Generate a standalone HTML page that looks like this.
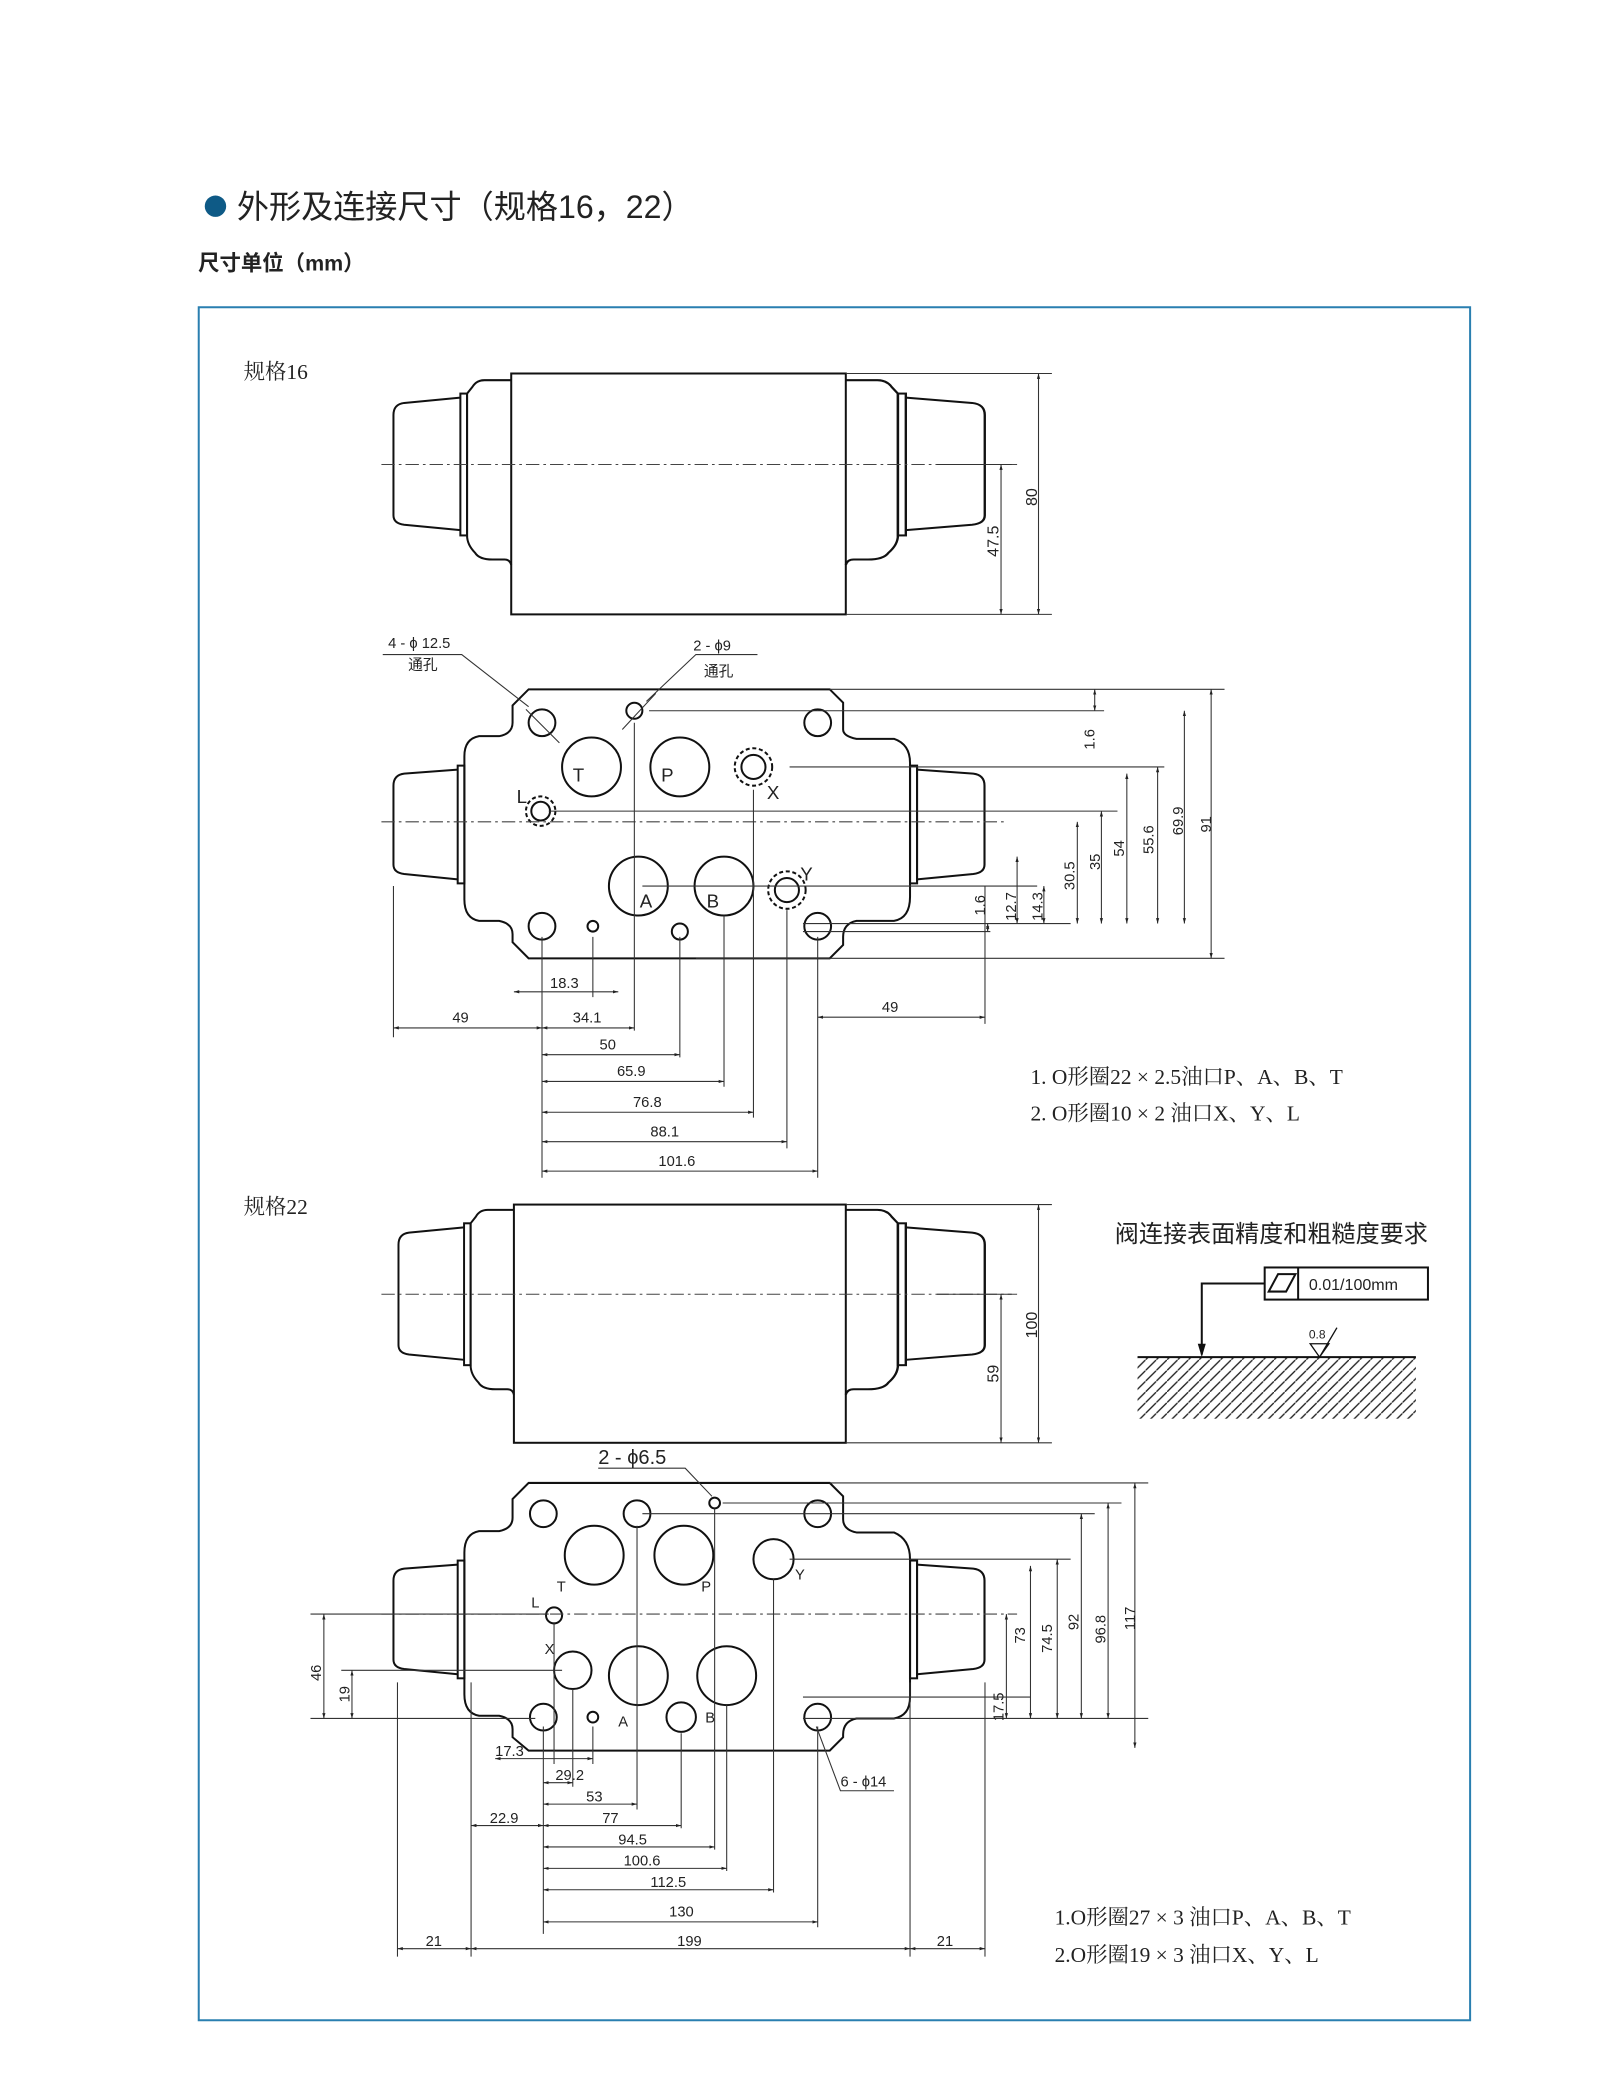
<!DOCTYPE html>
<html><head><meta charset="utf-8"><style>
html,body{margin:0;padding:0;background:#fff;width:1622px;height:2100px;overflow:hidden}
svg text{font-family:"Liberation Sans","Noto Sans CJK SC",sans-serif;fill:#222}
.s{font-family:"Liberation Serif","Noto Serif CJK SC",serif}
</style></head><body>
<svg width="1622" height="2100" viewBox="0 0 1212 1569" xmlns="http://www.w3.org/2000/svg">
<defs>
<marker id="a" viewBox="0 0 10 10" refX="10" refY="5" markerWidth="5" markerHeight="5" orient="auto-start-reverse"><path d="M0,2L10,5L0,8z" fill="#222"/></marker>
<pattern id="h" width="8" height="8" patternUnits="userSpaceOnUse"><path d="M0,8L8,0" stroke="#222" stroke-width="1"/></pattern>
<g id="sol">
<path d="M0 -63H-20Q-26 -63 -29 -58L-33 -53V53Q-33 60 -27 66Q-24 71 -14 71H-5Q-1 71 0 75"/>
<rect x="-38" y="-53" width="5" height="106"/>
<path d="M-38 -50L-80 -46Q-88 -45 -88 -37V38Q-88 44 -80 45L-38 49"/>
</g>
<g id="cap">
<rect x="-5" y="-44" width="5" height="88"/>
<path d="M-5 -41L-45 -38Q-53 -37 -53 -29V30Q-53 36 -45 37L-5 41"/>
</g>
</defs>
<circle cx="161" cy="154" r="8" fill="#0e5a86"/>
<text x="177" y="163" font-size="24">外形及连接尺寸（规格16，22）</text>
<text x="148" y="202" font-size="16" font-weight="bold">尺寸单位（mm）</text>
<rect x="148.5" y="229.5" width="950" height="1280" fill="none" stroke="#2a7fb0" stroke-width="1.5"/>

<g fill="none" stroke="#111" stroke-width="1.5">
<!-- size16 top -->
<rect x="382" y="279" width="250" height="180"/>
<use href="#sol" transform="translate(382 347)"/>
<use href="#sol" transform="translate(632 347) scale(-1.18 1)" style="vector-effect:non-scaling-stroke"/>
<!-- size16 plan -->
<path d="M395 515H620L630 525V545Q630 550 640 552H668Q680 556 680 570V670Q680 686 668 688H640Q630 690 630 700V706L620 716H395L383 704V698Q383 690 373 688H358Q347 686 347 672V565Q347 552 358 550H373Q383 548 383 540V527Z"/>
<use href="#cap" transform="translate(347 616)"/>
<use href="#cap" transform="translate(680 616) scale(-1.05 1)"/>
<circle cx="405" cy="540" r="10"/><circle cx="611" cy="540" r="10"/><circle cx="405" cy="692" r="10"/><circle cx="611" cy="692" r="10"/>
<circle cx="442" cy="573" r="22"/><circle cx="508" cy="573" r="22"/><circle cx="477" cy="662" r="22"/><circle cx="541" cy="662" r="22"/>
<circle cx="563" cy="573" r="9"/><circle cx="563" cy="573" r="14" stroke-dasharray="3 2"/>
<circle cx="404" cy="606" r="7"/><circle cx="404" cy="606" r="11" stroke-dasharray="3 2"/>
<circle cx="588" cy="665" r="9"/><circle cx="588" cy="665" r="14" stroke-dasharray="3 2"/>
<circle cx="443" cy="692" r="4"/><circle cx="508" cy="696" r="6"/><circle cx="474" cy="531" r="6"/>
<!-- size22 top -->
<rect x="384" y="900" width="248" height="178"/>
<use href="#sol" transform="translate(384 967) scale(0.98 1)"/>
<use href="#sol" transform="translate(632 967) scale(-1.18 1)"/>
<!-- size22 plan -->
<path d="M395 1108H620L630 1118V1135Q630 1143 640 1145H668Q680 1150 680 1165V1268Q680 1282 668 1284H640Q630 1286 630 1296V1298L620 1308H395L383 1298V1292Q383 1284 373 1282H358Q347 1280 347 1266V1160Q347 1146 358 1144H373Q383 1142 383 1134V1120Z"/>
<use href="#cap" transform="translate(347 1210)"/>
<use href="#cap" transform="translate(680 1210) scale(-1.05 1)"/>
<circle cx="406" cy="1131" r="10"/><circle cx="611" cy="1131" r="10"/><circle cx="406" cy="1283" r="10"/><circle cx="611" cy="1283" r="10"/>
<circle cx="476" cy="1131" r="10"/>
<circle cx="444" cy="1162" r="22"/><circle cx="511" cy="1162" r="22"/><circle cx="477" cy="1252" r="22"/><circle cx="543" cy="1252" r="22"/>
<circle cx="578" cy="1165" r="15"/><circle cx="428" cy="1248" r="14"/><circle cx="414" cy="1207" r="6"/>
<circle cx="443" cy="1283" r="4"/><circle cx="509" cy="1283" r="11"/><circle cx="534" cy="1123" r="4"/>
<!-- roughness -->
<rect x="945" y="947" width="122" height="24"/>
<line x1="970" y1="947" x2="970" y2="971"/>
<path d="M948 965L955 952H968L961 965Z"/>
<path d="M945 959H898V1012"/>
</g>
<path d="M895 1004L898 1014L901 1004Z" fill="#111"/>
<rect x="850" y="1014" width="208" height="46" fill="url(#h)"/>
<line x1="850" y1="1014" x2="1058" y2="1014" stroke="#111" stroke-width="1.5"/>
<path d="M979 1004L986 1014L993 1004Z M986 1014L999 992" fill="none" stroke="#111"/>
<text x="978" y="1000" font-size="9">0.8</text>
<text x="978" y="964" font-size="12">0.01/100mm</text>
<text x="833" y="928" font-size="18">阀连接表面精度和粗糙度要求</text>

<g stroke="#444" stroke-width="0.8" stroke-dasharray="10 3 2 3" fill="none">
<line x1="285" y1="347" x2="760" y2="347"/>
<line x1="285" y1="614" x2="750" y2="614"/>
<line x1="285" y1="967" x2="760" y2="967"/>
<line x1="285" y1="1206" x2="760" y2="1206"/>
</g>

<g stroke="#333" stroke-width="0.8" fill="none">
<path d="M632 279H786M632 459H786M700 347H756"/>
<line x1="776" y1="279" x2="776" y2="459" marker-start="url(#a)" marker-end="url(#a)"/>
<line x1="748" y1="347" x2="748" y2="459" marker-start="url(#a)" marker-end="url(#a)"/>
<path d="M620 515H915M485 531H825M590 573H870M410 606H835M480 662H775M600 690H800M520 716H915M600 696H740"/>
<line x1="905" y1="515" x2="905" y2="716" marker-start="url(#a)" marker-end="url(#a)"/>
<line x1="885" y1="531" x2="885" y2="690" marker-start="url(#a)" marker-end="url(#a)"/>
<line x1="865" y1="573" x2="865" y2="690" marker-start="url(#a)" marker-end="url(#a)"/>
<line x1="842" y1="578" x2="842" y2="690" marker-start="url(#a)" marker-end="url(#a)"/>
<line x1="823" y1="606" x2="823" y2="690" marker-start="url(#a)" marker-end="url(#a)"/>
<line x1="805" y1="614" x2="805" y2="690" marker-start="url(#a)" marker-end="url(#a)"/>
<line x1="818" y1="515" x2="818" y2="531" marker-start="url(#a)" marker-end="url(#a)"/>
<line x1="780" y1="662" x2="780" y2="690" marker-start="url(#a)" marker-end="url(#a)"/>
<line x1="760" y1="640" x2="760" y2="690" marker-start="url(#a)" marker-end="url(#a)"/>
<line x1="738" y1="690" x2="738" y2="696" marker-start="url(#a)" marker-end="url(#a)"/>
<path d="M294 662V775M405 700V880M443 700V745M474 540V770M508 700V790M541 684V812M563 590V835M588 680V858M611 700V880M736 662V765"/>
<line x1="384" y1="741" x2="462" y2="741" marker-start="url(#a)" marker-end="url(#a)"/>
<line x1="294" y1="768" x2="405" y2="768" marker-start="url(#a)" marker-end="url(#a)"/>
<line x1="405" y1="768" x2="474" y2="768" marker-start="url(#a)" marker-end="url(#a)"/>
<line x1="611" y1="760" x2="736" y2="760" marker-start="url(#a)" marker-end="url(#a)"/>
<line x1="405" y1="788" x2="508" y2="788" marker-start="url(#a)" marker-end="url(#a)"/>
<line x1="405" y1="808" x2="541" y2="808" marker-start="url(#a)" marker-end="url(#a)"/>
<line x1="405" y1="831" x2="563" y2="831" marker-start="url(#a)" marker-end="url(#a)"/>
<line x1="405" y1="853" x2="588" y2="853" marker-start="url(#a)" marker-end="url(#a)"/>
<line x1="405" y1="875" x2="611" y2="875" marker-start="url(#a)" marker-end="url(#a)"/>
<path d="M286 489H345L395 528M566 489H520L483 524M393 530L418 555M465 545L490 518"/>
<path d="M632 900H786M632 1078H786M700 967H756"/>
<line x1="776" y1="900" x2="776" y2="1078" marker-start="url(#a)" marker-end="url(#a)"/>
<line x1="748" y1="967" x2="748" y2="1078" marker-start="url(#a)" marker-end="url(#a)"/>
<path d="M620 1108H858M540 1123H838M480 1131H818M590 1165H800M600 1284H858M600 1268H770"/>
<line x1="848" y1="1108" x2="848" y2="1306" marker-start="url(#a)" marker-end="url(#a)"/>
<line x1="828" y1="1123" x2="828" y2="1284" marker-start="url(#a)" marker-end="url(#a)"/>
<line x1="808" y1="1131" x2="808" y2="1284" marker-start="url(#a)" marker-end="url(#a)"/>
<line x1="790" y1="1165" x2="790" y2="1284" marker-start="url(#a)" marker-end="url(#a)"/>
<line x1="770" y1="1170" x2="770" y2="1284" marker-start="url(#a)" marker-end="url(#a)"/>
<line x1="752" y1="1206" x2="752" y2="1284" marker-start="url(#a)" marker-end="url(#a)"/>
<path d="M232 1206H410M255 1248H420M232 1284H400"/>
<line x1="242" y1="1206" x2="242" y2="1284" marker-start="url(#a)" marker-end="url(#a)"/>
<line x1="263" y1="1248" x2="263" y2="1284" marker-start="url(#a)" marker-end="url(#a)"/>
<path d="M297 1257V1462M352 1257V1462M406 1290V1445M414 1212V1318M428 1262V1335M443 1290V1318M476 1140V1352M509 1295V1366M534 1127V1382M543 1274V1398M578 1180V1414M611 1290V1440M680 1257V1462M736 1257V1462"/>
<line x1="370" y1="1314" x2="443" y2="1314" marker-start="url(#a)" marker-end="url(#a)"/>
<line x1="406" y1="1332" x2="428" y2="1332" marker-start="url(#a)" marker-end="url(#a)"/>
<line x1="406" y1="1348" x2="476" y2="1348" marker-start="url(#a)" marker-end="url(#a)"/>
<line x1="352" y1="1364" x2="406" y2="1364" marker-start="url(#a)" marker-end="url(#a)"/>
<line x1="406" y1="1364" x2="509" y2="1364" marker-start="url(#a)" marker-end="url(#a)"/>
<line x1="406" y1="1380" x2="534" y2="1380" marker-start="url(#a)" marker-end="url(#a)"/>
<line x1="406" y1="1396" x2="543" y2="1396" marker-start="url(#a)" marker-end="url(#a)"/>
<line x1="406" y1="1412" x2="578" y2="1412" marker-start="url(#a)" marker-end="url(#a)"/>
<line x1="406" y1="1436" x2="611" y2="1436" marker-start="url(#a)" marker-end="url(#a)"/>
<line x1="297" y1="1456" x2="352" y2="1456" marker-start="url(#a)" marker-end="url(#a)"/>
<line x1="352" y1="1456" x2="680" y2="1456" marker-start="url(#a)" marker-end="url(#a)"/>
<line x1="680" y1="1456" x2="736" y2="1456" marker-start="url(#a)" marker-end="url(#a)"/>
<path d="M447 1097H512L532 1118M668 1338H628L610 1290"/>
</g>

<g font-size="11">
<text x="775" y="378" transform="rotate(-90 775 378)" font-size="12">80</text>
<text x="746" y="416" transform="rotate(-90 746 416)" font-size="12">47.5</text>
<text x="290" y="484">4 - ϕ 12.5</text><text x="305" y="500">通孔</text>
<text x="518" y="486">2 - ϕ9</text><text x="526" y="505">通孔</text>
<text x="818" y="560" transform="rotate(-90 818 560)">1.6</text>
<text x="905" y="622" transform="rotate(-90 905 622)">91</text>
<text x="884" y="624" transform="rotate(-90 884 624)">69.9</text>
<text x="862" y="638" transform="rotate(-90 862 638)">55.6</text>
<text x="840" y="640" transform="rotate(-90 840 640)">54</text>
<text x="822" y="650" transform="rotate(-90 822 650)">35</text>
<text x="803" y="665" transform="rotate(-90 803 665)">30.5</text>
<text x="779" y="688" transform="rotate(-90 779 688)">14.3</text>
<text x="759" y="688" transform="rotate(-90 759 688)">12.7</text>
<text x="736" y="684" transform="rotate(-90 736 684)">1.6</text>
<text x="411" y="738">18.3</text><text x="338" y="764">49</text><text x="428" y="764">34.1</text>
<text x="659" y="756">49</text><text x="448" y="784">50</text><text x="461" y="804">65.9</text>
<text x="473" y="827">76.8</text><text x="486" y="849">88.1</text><text x="492" y="871">101.6</text>
<text x="775" y="1000" transform="rotate(-90 775 1000)" font-size="12">100</text>
<text x="746" y="1033" transform="rotate(-90 746 1033)" font-size="12">59</text>
<text x="848" y="1218" transform="rotate(-90 848 1218)">117</text>
<text x="826" y="1228" transform="rotate(-90 826 1228)">96.8</text>
<text x="806" y="1218" transform="rotate(-90 806 1218)">92</text>
<text x="786" y="1235" transform="rotate(-90 786 1235)">74.5</text>
<text x="766" y="1228" transform="rotate(-90 766 1228)">73</text>
<text x="750" y="1286" transform="rotate(-90 750 1286)">17.5</text>
<text x="240" y="1256" transform="rotate(-90 240 1256)">46</text>
<text x="261" y="1272" transform="rotate(-90 261 1272)">19</text>
<text x="370" y="1312">17.3</text><text x="415" y="1330">29.2</text><text x="438" y="1346">53</text>
<text x="366" y="1362">22.9</text><text x="450" y="1362">77</text><text x="462" y="1378">94.5</text>
<text x="466" y="1394">100.6</text><text x="486" y="1410">112.5</text><text x="500" y="1432">130</text>
<text x="318" y="1454">21</text><text x="506" y="1454">199</text><text x="700" y="1454">21</text>
<text x="628" y="1335">6 - ϕ14</text>
</g>
<text x="447" y="1094" font-size="15">2 - ϕ6.5</text>
<g font-size="14">
<text x="428" y="584">T</text><text x="494" y="584">P</text><text x="573" y="597">X</text>
<text x="386" y="600">L</text><text x="478" y="678">A</text><text x="528" y="678">B</text><text x="598" y="658">Y</text>
</g>
<g font-size="11">
<text x="416" y="1189">T</text><text x="397" y="1201">L</text><text x="524" y="1189">P</text><text x="594" y="1180">Y</text>
<text x="407" y="1236">X</text><text x="462" y="1290">A</text><text x="527" y="1287">B</text>
</g>
<g font-size="16">
<text class="s" x="182" y="283">规格16</text>
<text class="s" x="182" y="907">规格22</text>
<text class="s" x="770" y="810">1. O形圈22 × 2.5油口P、A、B、T</text>
<text class="s" x="770" y="837">2. O形圈10 × 2  油口X、Y、L</text>
<text class="s" x="788" y="1438">1.O形圈27 × 3  油口P、A、B、T</text>
<text class="s" x="788" y="1466">2.O形圈19 × 3  油口X、Y、L</text>
</g>
</svg>
</body></html>
